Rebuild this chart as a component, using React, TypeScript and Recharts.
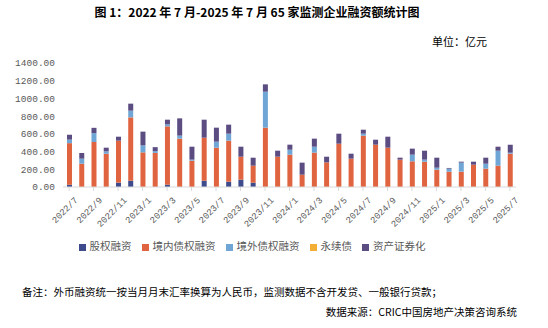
import { BarChart, Bar, XAxis, YAxis, Legend } from 'recharts'

const MONTHS = [
  '2022/7', '2022/8', '2022/9', '2022/10', '2022/11', '2022/12',
  '2023/1', '2023/2', '2023/3', '2023/4', '2023/5', '2023/6',
  '2023/7', '2023/8', '2023/9', '2023/10', '2023/11', '2023/12',
  '2024/1', '2024/2', '2024/3', '2024/4', '2024/5', '2024/6',
  '2024/7', '2024/8', '2024/9', '2024/10', '2024/11', '2024/12',
  '2025/1', '2025/2', '2025/3', '2025/4', '2025/5', '2025/6', '2025/7',
]

// 股权融资
const EQUITY = [25, 0, 0, 0, 49, 71, 0, 0, 26, 0, 0, 71, 0, 60, 83, 49, 0, 0, 0, 0, 0, 0, 0, 0, 0, 0, 0, 0, 0, 0, 0, 0, 0, 0, 0, 0, 0]
// 境内债权融资
const DOMESTIC = [470, 263, 508, 376, 474, 715, 391, 385, 659, 546, 297, 486, 444, 463, 259, 192, 670, 342, 365, 139, 388, 278, 489, 320, 580, 478, 444, 309, 290, 286, 196, 173, 173, 252, 207, 241, 376]
// 境外债权融资
const OVERSEAS = [40, 57, 100, 27, 0, 76, 79, 20, 22, 34, 12, 0, 68, 79, 0, 0, 406, 0, 56, 0, 67, 0, 0, 0, 22, 0, 0, 0, 75, 23, 22, 34, 102, 0, 56, 169, 12]
// 永续债
const PERPETUAL = [0, 0, 0, 0, 0, 0, 0, 0, 0, 0, 0, 0, 0, 0, 0, 0, 0, 0, 0, 0, 0, 0, 0, 0, 0, 0, 0, 0, 0, 0, 0, 0, 0, 0, 0, 0, 0]
// 资产证券化
const ABS = [55, 64, 60, 41, 45, 79, 155, 45, 53, 195, 146, 203, 158, 102, 113, 90, 83, 68, 57, 136, 91, 64, 113, 56, 45, 56, 124, 22, 68, 101, 113, 8, 11, 34, 68, 45, 90]

const Y_TICKS = [0, 200, 400, 600, 800, 1000, 1200, 1400]

const SERIES_ORDER = ['equity', 'domestic', 'overseas', 'perpetual', 'abs']

const data = MONTHS.map((m, i) => ({
  month: m,
  equity: EQUITY[i],
  domestic: DOMESTIC[i],
  overseas: OVERSEAS[i],
  perpetual: PERPETUAL[i],
  abs: ABS[i],
}))

const MONO = '"Liberation Mono", "DejaVu Sans Mono", monospace'
const CJK = '"Noto Sans CJK SC", sans-serif'

function MonthTick({ x, y, payload }: any) {
  return (
    <g transform={`translate(${x},${y})`}>
      <text x={1} y={8} dy={4} textAnchor="end" transform="rotate(-45)" fontSize={9} fill="#595959" fontFamily={MONO}>
        {payload.value}
      </text>
    </g>
  )
}

export default function App() {
  return (
    <div style={{ position: 'absolute', left: 0, top: 0, width: 548, height: 328, background: '#fff', fontFamily: CJK }}>
      <div style={{ position: 'absolute', left: 0, top: 3, width: 514, textAlign: 'center', fontSize: 12, fontWeight: 700, color: '#000', whiteSpace: 'nowrap' }}>
        图 1：2022 年 7 月-2025 年 7 月 65 家监测企业融资额统计图
      </div>
      <div style={{ position: 'absolute', right: 61, top: 33, fontSize: 11, color: '#000' }}>单位：亿元</div>

      <div style={{ position: 'absolute', left: 0, top: 0 }}>
        <BarChart width={548} height={270} data={data} margin={{ top: 63, right: 32, left: 0, bottom: 36 }} barSize={5}>
          <XAxis
            dataKey="month"
            interval={1}
            tick={<MonthTick />}
            height={47}
            axisLine={{ stroke: '#d9d9d9' }}
            tickLine={{ stroke: '#d9d9d9' }}
            tickSize={4}
          />
          <YAxis
            domain={[0, 1400]}
            ticks={Y_TICKS}
            width={63}
            axisLine={false}
            tickLine={false}
            tickFormatter={(v: number) => v.toFixed(2)}
            tick={{ fontSize: 9.5, fill: '#595959', fontFamily: MONO }}
          />
          <Legend
            verticalAlign="middle"
            align="center"
            layout="horizontal"
            iconType="square"
            iconSize={7}
            itemSorter={(item: any) => SERIES_ORDER.indexOf(item.dataKey)}
            wrapperStyle={{ top: 238, left: 0, width: 514, fontSize: 10.5, fontFamily: CJK }}
            formatter={(v: string) => <span style={{ color: '#595959' }}>{v}</span>}
          />
          <Bar dataKey="equity" name="股权融资" stackId="a" fill="#3D4A8C" isAnimationActive={false} />
          <Bar dataKey="domestic" name="境内债权融资" stackId="a" fill="#E0643F" isAnimationActive={false} />
          <Bar dataKey="overseas" name="境外债权融资" stackId="a" fill="#6FA6D6" isAnimationActive={false} />
          <Bar dataKey="perpetual" name="永续债" stackId="a" fill="#F2AE35" isAnimationActive={false} />
          <Bar dataKey="abs" name="资产证券化" stackId="a" fill="#5B4C82" isAnimationActive={false} />
        </BarChart>
      </div>

      <div style={{ position: 'absolute', left: 22, top: 284, fontSize: 10.5, color: '#000', whiteSpace: 'nowrap' }}>
        备注：外币融资统一按当月月末汇率换算为人民币，监测数据不含开发贷、一般银行贷款；
      </div>
      <div style={{ position: 'absolute', right: 31, top: 304, fontSize: 10.5, color: '#000', whiteSpace: 'nowrap' }}>
        数据来源：CRIC中国房地产决策咨询系统
      </div>
    </div>
  )
}
